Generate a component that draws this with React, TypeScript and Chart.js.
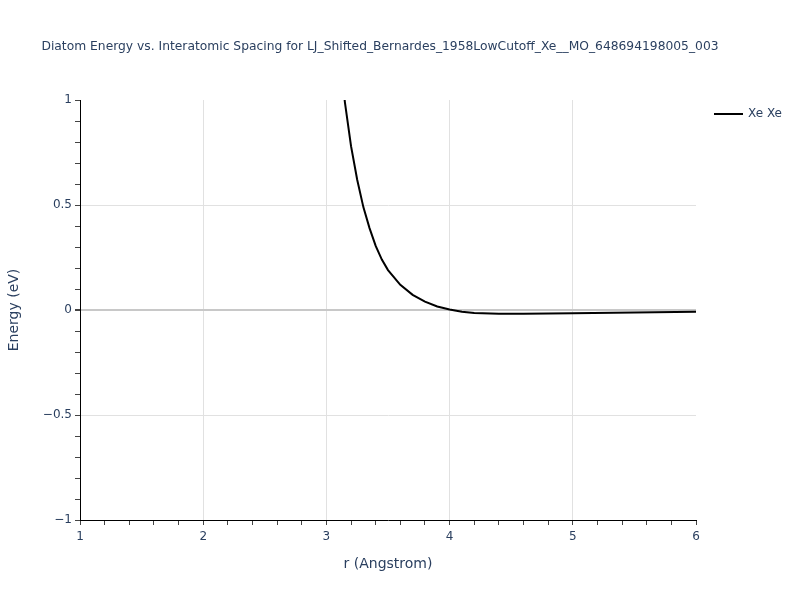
import { useEffect, useRef } from 'react';
import { Chart, registerables } from 'chart.js';

Chart.register(...registerables);

const TITLE = 'Diatom Energy vs. Interatomic Spacing for LJ_Shifted_Bernardes_1958LowCutoff_Xe__MO_648694198005_003';
const SERIES_NAME = 'Xe Xe';

// interatomic spacing (Angstrom)
const rValues = [3.1, 3.15, 3.2, 3.25, 3.3, 3.35, 3.4, 3.45, 3.5, 3.6, 3.7, 3.8, 3.9, 4.0, 4.1, 4.2, 4.4, 4.6, 4.8, 5.0, 5.5, 6.0];
// energy (eV)
const energyValues = [1.28, 0.99, 0.78, 0.62, 0.49, 0.39, 0.305, 0.24, 0.19, 0.12, 0.072, 0.04, 0.017, 0.002, -0.008, -0.014, -0.018, -0.018, -0.017, -0.016, -0.012, -0.008];

const xTickLabels = ['1', '2', '3', '4', '5', '6'];
const yTickLabels = ['\u22121', '\u22120.5', '0', '0.5', '1'];

const FONT = '"DejaVu Sans", verdana, arial, sans-serif';
const TEXT_COLOR = '#2a3f5f';

const App = () => {
  const chartRef = useRef<HTMLCanvasElement>(null);

  useEffect(() => {
    const ctx = chartRef.current?.getContext('2d');
    if (!ctx) return;

    // title + legend drawn on top of the canvas
    const overlay = {
      id: 'overlay',
      afterDraw(chart: Chart) {
        const c = chart.ctx;
        c.save();
        c.fillStyle = TEXT_COLOR;
        c.font = `12.3px ${FONT}`;
        c.textAlign = 'center';
        c.textBaseline = 'middle';
        c.fillText(TITLE, 380, 46.5);

        // legend
        c.strokeStyle = '#000';
        c.lineWidth = 2;
        c.beginPath();
        c.moveTo(714, 114);
        c.lineTo(743, 114);
        c.stroke();
        c.font = `12px ${FONT}`;
        c.textAlign = 'left';
        c.fillText(SERIES_NAME, 748, 114);
        c.restore();
      },
    };

    const chartInstance = new Chart(ctx, {
      type: 'line',
      data: {
        datasets: [
          {
            label: SERIES_NAME,
            data: rValues.map((r, i) => ({ x: r, y: energyValues[i] })),
            borderColor: '#000',
            borderWidth: 2,
            pointRadius: 0,
            tension: 0,
            fill: false,
          },
        ],
      },
      options: {
        responsive: false,
        animation: false,
        layout: { padding: { top: 100, right: 104, left: 0, bottom: 0 } },
        plugins: { legend: { display: false }, tooltip: { enabled: false } },
        scales: {
          x: {
            type: 'linear',
            min: 1,
            max: 6,
            afterFit: (s: any) => {
              s.height = 80;
            },
            border: { color: '#000', width: 1 },
            grid: {
              color: (c: any) => {
                const v = Math.round(c.tick.value * 10);
                return v % 10 === 0 && v !== 10 && v !== 60 ? '#e1e1e1' : 'rgba(0,0,0,0)';
              },
              tickColor: '#444',
              tickLength: 5,
              drawTicks: true,
            },
            ticks: {
              stepSize: 0.2,
              autoSkip: false,
              maxRotation: 0,
              padding: 5,
              color: TEXT_COLOR,
              font: { family: FONT, size: 12 },
              callback: (v: any) => {
                const t = Math.round(Number(v) * 10);
                return t % 10 === 0 ? xTickLabels[t / 10 - 1] : '';
              },
            },
            title: {
              display: true,
              text: 'r (Angstrom)',
              color: TEXT_COLOR,
              font: { family: FONT, size: 14 },
              padding: { top: 0, bottom: 27 },
            },
          },
          y: {
            type: 'linear',
            min: -1,
            max: 1,
            afterFit: (s: any) => {
              s.width = 80;
            },
            border: { color: '#000', width: 1 },
            grid: {
              color: (c: any) => {
                const v = Math.round(c.tick.value * 10);
                if (v === 0) return '#c8c8c8';
                return v % 5 === 0 && Math.abs(v) !== 10 ? '#e1e1e1' : 'rgba(0,0,0,0)';
              },
              lineWidth: (c: any) => (Math.round(c.tick.value * 10) === 0 ? 2 : 1),
              tickColor: '#444',
              tickLength: 5,
            },
            ticks: {
              stepSize: 0.1,
              autoSkip: false,
              padding: 3,
              color: TEXT_COLOR,
              font: { family: FONT, size: 12 },
              callback: (v: any) => {
                const t = Math.round(Number(v) * 10);
                return t % 5 === 0 ? yTickLabels[t / 5 + 2] : '';
              },
            },
            title: {
              display: true,
              text: 'Energy (eV)',
              color: TEXT_COLOR,
              font: { family: FONT, size: 14 },
              padding: { top: 6, bottom: 0 },
            },
          },
        },
      },
      plugins: [overlay],
    });

    return () => chartInstance.destroy();
  }, []);

  return (
    <div style={{ position: 'absolute', top: 0, left: 0, width: 800, height: 600, background: '#fff' }}>
      <canvas ref={chartRef} width={800} height={600} style={{ width: 800, height: 600 }} />
    </div>
  );
};

export default App;
